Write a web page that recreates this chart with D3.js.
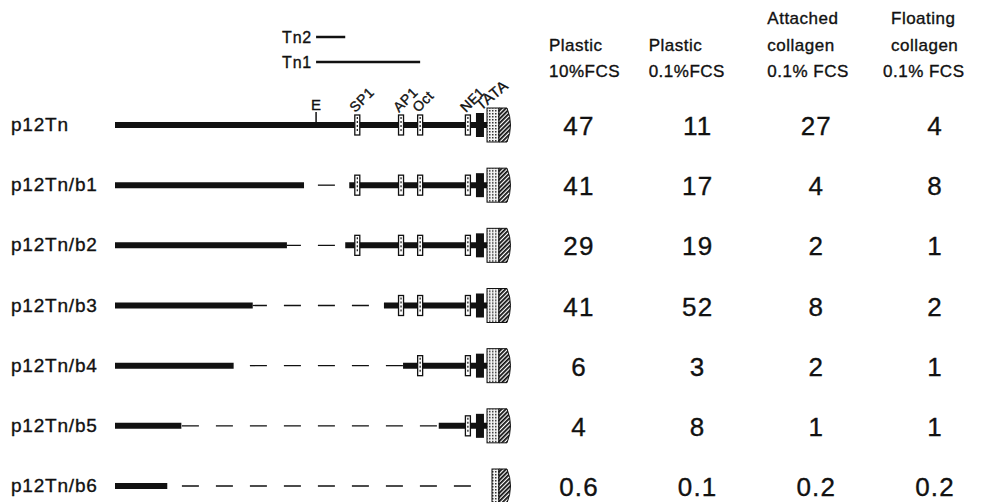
<!DOCTYPE html>
<html>
<head>
<meta charset="utf-8">
<script src="https://cdn.jsdelivr.net/npm/d3@7"></script>
<style>
  body { margin: 0; background: #fff; }
  svg { display: block; font-family: "Liberation Sans", Arial, Helvetica, sans-serif; }
  svg text { stroke: #111; stroke-width: 0.35; }
</style>
</head>
<body>
<script>
// constructs (rows) and deletion end points, in bp relative to the promoter box
const constructs = ["p12Tn", "p12Tn/b1", "p12Tn/b2", "p12Tn/b3", "p12Tn/b4", "p12Tn/b5", "p12Tn/b6"];
const fivePrimeEnd = [0, -1820, -1990, -2330, -2520, -3040, -3180];
const threePrimeStart = [0, -1370, -1410, -1025, -835, -480, 0];

// regulatory sites
const siteNames = ["E", "SP1", "AP1", "Oct", "NF1", "TATA"];
const sitePos = [-1700, -1290, -855, -665, -190, -70];

// Tn probes above the map
const tnNames = ["Tn2", "Tn1"];
const tnStart = [-1700, -1700];
const tnEnd = [-1410, -665];

// culture conditions and activities
const conditionHeaders = [
  ["Plastic", "10%FCS"],
  ["Plastic", "0.1%FCS"],
  ["Attached", "collagen", "0.1% FCS"],
  ["Floating", "collagen", "0.1% FCS"]
];
const plastic10 = ["47", "41", "29", "41", "6", "4", "0.6"];
const plastic01 = ["11", "17", "19", "52", "3", "8", "0.1"];
const attachedColl = ["27", "4", "2", "8", "2", "1", "0.2"];
const floatingColl = ["4", "8", "1", "2", "1", "1", "0.2"];
const activity = [plastic10, plastic01, attachedColl, floatingColl];

const W = 982, H = 502, ink = "#111";

const svg = d3.select("body").append("svg")
  .attr("width", W)
  .attr("height", H);

// patterns for the promoter box
const defs = svg.append("defs");
const dots = defs.append("pattern")
  .attr("id", "stipple").attr("patternUnits", "userSpaceOnUse")
  .attr("width", 3).attr("height", 3);
dots.append("rect").attr("width", 3).attr("height", 3).attr("fill", "#f4f4f4");
dots.append("rect").attr("width", 1.5).attr("height", 1.5).attr("fill", "#333");
const hatch = defs.append("pattern")
  .attr("id", "hatch").attr("patternUnits", "userSpaceOnUse")
  .attr("width", 3).attr("height", 3)
  .attr("patternTransform", "rotate(-45)");
hatch.append("rect").attr("width", 3).attr("height", 3).attr("fill", "#fff");
hatch.append("rect").attr("width", 3).attr("height", 1.8).attr("fill", "#111");

// scales
const x = d3.scaleLinear().domain([-3700, 0]).range([115, 487]);
const y = d3.scalePoint().domain(constructs).range([125, 486]);
const col = d3.scalePoint().domain(d3.range(conditionHeaders.length)).range([579, 935]);
const headerShift = [-30, -49, -49, -44];

const dashLen = 17, dashPeriod = 34, dashPhase = x(-2020);

// rows
const rows = svg.selectAll("g.row")
  .data(constructs.map((name, i) => ({
    name: name, i: i, end5: fivePrimeEnd[i], start3: threePrimeStart[i]
  })))
  .enter().append("g")
  .attr("class", "row")
  .attr("transform", d => `translate(0,${y(d.name)})`);

rows.append("text")
  .attr("x", 11).attr("y", 6)
  .attr("font-size", 19)
  .attr("letter-spacing", 0.8)
  .attr("fill", ink)
  .text(d => d.name);

// 5' part
rows.append("line")
  .attr("x1", x(-3700))
  .attr("x2", d => x(d.end5))
  .attr("stroke", ink).attr("stroke-width", 6);

// deleted part (dashed)
rows.filter(d => d.i > 0)
  .append("line")
  .attr("x1", d => x(d.end5))
  .attr("x2", d => x(d.start3))
  .attr("stroke", ink).attr("stroke-width", 1.3)
  .attr("stroke-dasharray", `${dashLen},${dashPeriod - dashLen}`)
  .attr("stroke-dashoffset", d => {
    const o = (x(d.end5) - dashPhase) % dashPeriod;
    return o < 0 ? o + dashPeriod : o;
  });

// 3' part
rows.filter(d => d.i > 0 && d.start3 < 0)
  .append("line")
  .attr("x1", d => x(d.start3))
  .attr("x2", x(0))
  .attr("stroke", ink).attr("stroke-width", 6);

// sites kept in each construct
const kept = (d, p) => d.i === 0 || p <= d.end5 || (p >= d.start3 && d.start3 < 0);

rows.each(function(d) {
  const g = d3.select(this);
  siteNames.forEach((s, k) => {
    const p = sitePos[k];
    if (!kept(d, p)) return;
    const cx = x(p);
    if (s === "E") {
      g.append("line").attr("x1", cx).attr("x2", cx).attr("y1", -13).attr("y2", 0)
        .attr("stroke", ink).attr("stroke-width", 1.5);
    } else if (s === "TATA") {
      g.append("rect").attr("x", cx - 4).attr("y", -12).attr("width", 8).attr("height", 24)
        .attr("fill", ink);
    } else {
      g.append("rect").attr("x", cx - 2.5).attr("y", -10).attr("width", 5).attr("height", 20)
        .attr("fill", "#fff").attr("stroke", ink).attr("stroke-width", 1.3);
      g.append("line").attr("x1", cx).attr("x2", cx).attr("y1", -8).attr("y2", 8)
        .attr("stroke", ink).attr("stroke-width", 1.2).attr("stroke-dasharray", "2,2");
    }
  });

  // promoter box: stippled + hatched with rounded end
  const x0 = x(0) + (d.i === constructs.length - 1 ? 5 : 0);
  const xm = x(0) + 12, xr = x(0) + 26, h = 17;
  g.append("rect").attr("x", x0).attr("y", -h).attr("width", xm - x0).attr("height", 2 * h)
    .attr("fill", "url(#stipple)").attr("stroke", ink).attr("stroke-width", 1);
  g.append("path")
    .attr("d", `M${xm},${-h} L${xr - 6},${-h} Q${xr + 1},0 ${xr - 6},${h} L${xm},${h} Z`)
    .attr("fill", "url(#hatch)").attr("stroke", ink).attr("stroke-width", 1);
});

// rotated site labels on the full-length construct
const firstRow = svg.append("g").attr("transform", `translate(0,${y(constructs[0])})`);
siteNames.forEach((s, k) => {
  const cx = x(sitePos[k]);
  if (s === "E") {
    firstRow.append("text").attr("x", cx).attr("y", -15)
      .attr("text-anchor", "middle").attr("font-size", 15).attr("fill", ink).text(s);
  } else {
    firstRow.append("text")
      .attr("transform", s === "TATA"
        ? `translate(${cx + 1},${-14}) rotate(-40)`
        : `translate(${cx - 2},${-12}) rotate(-45)`)
      .attr("font-size", s === "TATA" ? 15 : 14)
      .attr("letter-spacing", 0.5)
      .attr("fill", ink).text(s);
  }
});

// Tn probes
const tnY = d3.scalePoint().domain(tnNames).range([37, 62]);
tnNames.forEach((t, k) => {
  svg.append("text").attr("x", x(tnStart[k]) - 4).attr("y", tnY(t) + 6)
    .attr("text-anchor", "end").attr("font-size", 16).attr("letter-spacing", 0.8)
    .attr("fill", ink).text(t);
  svg.append("line")
    .attr("x1", x(tnStart[k])).attr("x2", x(tnEnd[k]))
    .attr("y1", tnY(t)).attr("y2", tnY(t))
    .attr("stroke", ink).attr("stroke-width", 2.5);
});

// column headers
conditionHeaders.forEach((lines, c) => {
  const n = lines.length;
  lines.forEach((ln, j) => {
    svg.append("text")
      .attr("x", col(c) + headerShift[c] - (c === 3 && j === n - 1 ? 8 : 0))
      .attr("y", 77 - (n - 1 - j) * 26.5)
      .attr("font-size", 17).attr("letter-spacing", 0.5)
      .attr("fill", ink)
      .text(ln);
  });
});

// activity values
activity.forEach((vals, c) => {
  svg.selectAll(null)
    .data(vals)
    .enter().append("text")
    .attr("x", col(c))
    .attr("y", (v, i) => y(constructs[i]) + 10)
    .attr("text-anchor", "middle")
    .attr("font-size", 26).attr("letter-spacing", 1.2)
    .attr("fill", ink)
    .text(v => v);
});
</script>
</body>
</html>
